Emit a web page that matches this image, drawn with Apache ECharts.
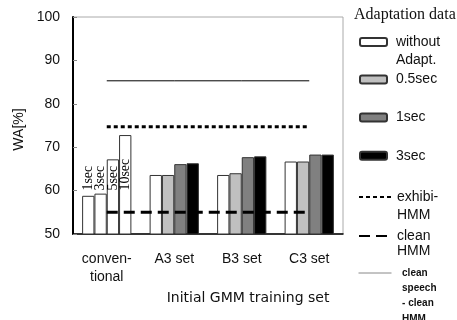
<!DOCTYPE html>
<html>
<head>
<meta charset="utf-8">
<script src="https://cdn.jsdelivr.net/npm/echarts@6/dist/echarts.min.js"></script>
<style>
  html, body { margin: 0; padding: 0; background: #fff; }
  #chart { width: 457px; height: 320px; }
</style>
</head>
<body>
<div id="chart"></div>
<script>
// Initial GMM training sets on the x axis
const categories = ['conven-\ntional', 'A3 set', 'B3 set', 'C3 set'];

// Word accuracy [%] per adaptation-data amount
const withoutAdapt = [58.8, 63.6, 63.6, 66.7];
const adapt05sec   = [59.3, 63.6, 64.0, 66.7];
const adapt1sec    = [67.2, 66.1, 67.7, 68.3];
const adapt3sec    = [72.8, 66.3, 67.9, 68.3];

// Conventional method: the four bars use 1, 3, 5 and 10 sec of data
const convLabels = ['1sec', '3sec', '5sec', '10sec'];
const convLabelBase = 60;

// Reference systems (constant across training sets)
const exhibiHMM = 74.7;
const cleanHMM = 55.0;
const cleanSpeechCleanHMM = 85.3;

const yTicks = [50, 60, 70, 80, 90, 100];

const catGap = 0.27;
const sansFont = '"Liberation Sans", Arial, sans-serif';
const serifFont = '"Liberation Serif", "Times New Roman", serif';

const barNames = ['without\nAdapt.', '0.5sec', '1sec', '3sec'];
const barColors = ['#ffffff', '#c0c0c0', '#808080', '#000000'];
const barValues = [withoutAdapt, adapt05sec, adapt1sec, adapt3sec];

const barSeries = barValues.map((vals, s) => ({
  name: barNames[s],
  type: 'bar',
  barGap: 0,
  barCategoryGap: (catGap * 100) + '%',
  itemStyle: { color: barColors[s], borderColor: '#333', borderWidth: 1 },
  data: vals.map((v, i) => i === 0
    ? { value: v, itemStyle: { color: '#ffffff' } }
    : v),
  z: 2
}));

const lineSeries = [
  { name: 'exhibi-\nHMM', value: exhibiHMM, style: { color: '#000', width: 3, type: [4, 3] } },
  { name: 'clean\nHMM', value: cleanHMM, style: { color: '#000', width: 3, type: [11, 6] } },
  { name: 'clean\nspeech\n- clean\nHMM', value: cleanSpeechCleanHMM, style: { color: '#000', width: 1, type: 'solid' } }
].map(d => ({
  name: d.name,
  type: 'line',
  symbol: 'none',
  silent: true,
  itemStyle: { color: '#000' },
  lineStyle: d.style,
  data: categories.map(() => d.value),
  z: 4
}));

const labelSeries = {
  name: 'conventional adaptation',
  type: 'custom',
  silent: true,
  z: 5,
  data: convLabels.map((t, i) => [0, convLabelBase, i]),
  renderItem(params, api) {
    const slot = api.value(2);
    const base = api.coord([api.value(0), api.value(1)]);
    const band = api.size([1, 0])[0];
    const bw = band * (1 - catGap) / convLabels.length;
    const x = base[0] + (slot - (convLabels.length - 1) / 2) * bw;
    return {
      type: 'text',
      x: x,
      y: base[1],
      rotation: Math.PI / 2,
      style: {
        text: convLabels[slot],
        fontFamily: serifFont,
        fontSize: 14,
        align: 'left',
        verticalAlign: 'middle',
        fill: '#000'
      }
    };
  }
};

// One legend block per entry; the first text line is centred on the icon
// by prefixing empty lines (the label is centred as a whole).
function legendEntry(name, iconCenterY, o) {
  const lines = name.split('\n');
  const n = lines.length;
  const L = o.lineHeight;
  const boxH = (2 * n - 1) * L;
  const indent = o.indent || '';
  const label = '\n'.repeat(n - 1) + lines.map(s => indent + s).join('\n');
  const item = { name: name };
  if (o.dataItem) Object.assign(item, o.dataItem);
  return {
    data: [item],
    left: o.left,
    top: iconCenterY - boxH / 2,
    orient: 'vertical',
    padding: 0,
    selectedMode: false,
    itemWidth: o.itemWidth,
    itemHeight: o.itemHeight,
    formatter: () => label,
    textStyle: {
      fontFamily: sansFont,
      fontSize: o.fontSize || 14,
      fontWeight: o.fontWeight || 'normal',
      color: '#111',
      lineHeight: L
    }
  };
}

const boxOpts = { left: 359, itemWidth: 27, itemHeight: 8, lineHeight: 18, indent: ' ' };
const lineItem = { itemStyle: { opacity: 0 } };
const lineOpts = { left: 358, itemWidth: 33, itemHeight: 8, lineHeight: 18, dataItem: lineItem };

const legends = [
  legendEntry('without\nAdapt.', 42, boxOpts),
  legendEntry('0.5sec', 79.5, boxOpts),
  legendEntry('1sec', 117.5, boxOpts),
  legendEntry('3sec', 155.7, boxOpts),
  legendEntry('exhibi-\nHMM', 197, lineOpts),
  legendEntry('clean\nHMM', 236, Object.assign({}, lineOpts, { lineHeight: 15.5 })),
  legendEntry('clean\nspeech\n- clean\nHMM', 273, Object.assign({}, lineOpts, {
    lineHeight: 15.3, fontSize: 10, fontWeight: 'bold', indent: '  ',
    dataItem: { itemStyle: { opacity: 0 }, lineStyle: { color: '#888', width: 1 } }
  }))
];

const chart = echarts.init(document.getElementById('chart'), null, { renderer: 'canvas' });
chart.setOption({
  animation: false,
  backgroundColor: '#fff',
  title: {
    text: 'Adaptation data',
    left: 354,
    top: 7,
    padding: 0,
    textStyle: {
      fontFamily: serifFont,
      fontSize: 16,
      fontWeight: 'normal',
      color: '#111'
    }
  },
  legend: legends,
  grid: {
    left: 73, top: 17, right: 114, bottom: 86,
    show: true, borderColor: '#aaa', borderWidth: 1, backgroundColor: 'transparent'
  },
  xAxis: {
    type: 'category',
    data: categories,
    name: 'Initial GMM training set',
    nameLocation: 'middle',
    nameGap: 55,
    nameTextStyle: {
      fontFamily: '"DejaVu Sans", sans-serif',
      fontSize: 14,
      color: '#111',
      padding: [0, 0, 0, 80]
    },
    axisLine: { lineStyle: { color: '#000', width: 1.5 } },
    axisTick: { inside: true, length: 5, lineStyle: { color: '#888' } },
    axisLabel: {
      fontFamily: sansFont,
      fontSize: 14,
      lineHeight: 18,
      color: '#111',
      margin: 16
    }
  },
  yAxis: {
    type: 'value',
    min: yTicks[0],
    max: yTicks[yTicks.length - 1],
    interval: yTicks[1] - yTicks[0],
    name: 'WA[%]',
    nameLocation: 'middle',
    nameGap: 32,
    nameTextStyle: {
      fontFamily: sansFont,
      fontSize: 14,
      color: '#111',
      padding: [0, 8, 0, 0]
    },
    axisLine: { show: true, lineStyle: { color: '#000', width: 2 } },
    axisTick: { show: true, inside: true, length: 4, lineStyle: { color: '#888' } },
    splitLine: { show: false },
    axisLabel: {
      fontFamily: sansFont,
      fontSize: 14,
      color: '#111',
      margin: 13,
      padding: [3, 0, 0, 0]
    }
  },
  series: barSeries.concat(lineSeries, [labelSeries])
});
</script>
</body>
</html>
